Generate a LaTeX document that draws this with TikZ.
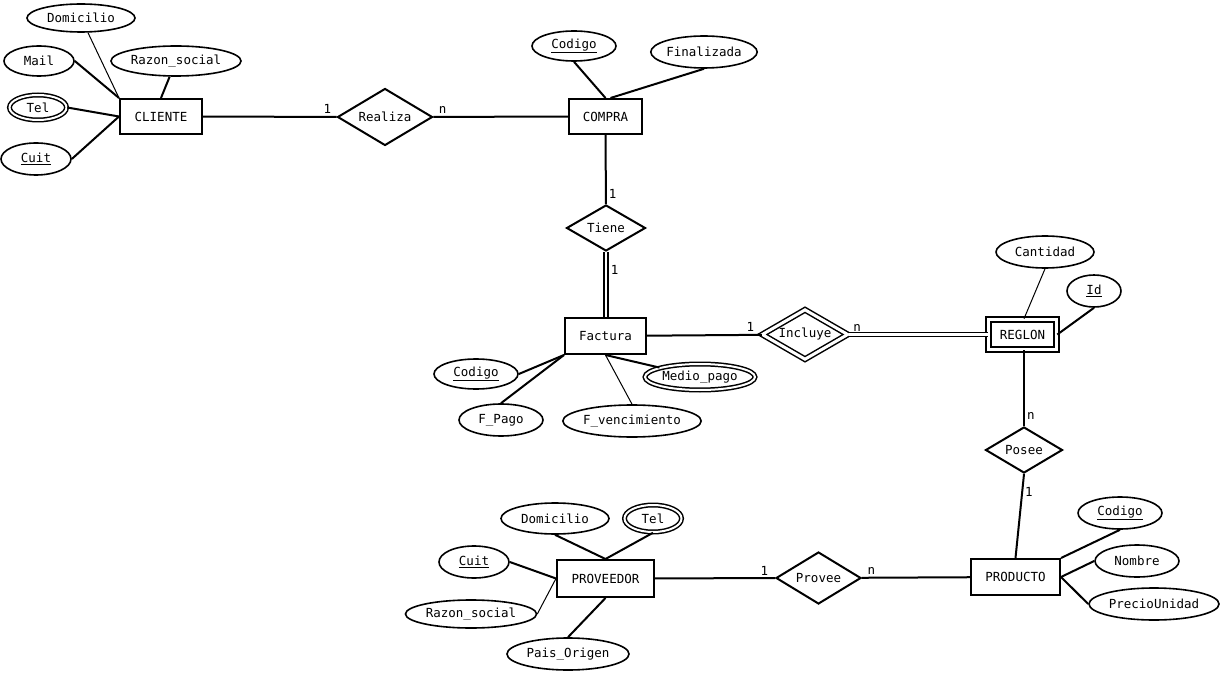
\documentclass[tikz,border=0pt]{standalone}
\usepackage{fontspec}
\setmainfont{DejaVu Sans Mono}
\usetikzlibrary{shapes.geometric}
\tikzset{entity/.style={draw,rectangle,line width=2pt,inner sep=0pt},
  weakentity/.style={entity,double,double distance=3.5pt,line width=1.6pt},
  attr/.style={draw,ellipse,line width=1.6pt,inner sep=0pt},
  multiattr/.style={attr,double,double distance=2pt,line width=1.5pt},
  rel/.style={draw,diamond,aspect=1.6,line width=2pt,inner sep=0pt},
  weakrel/.style={rel,double,double distance=3pt,line width=1.5pt},
  link/.style={line width=2pt},
  thinlink/.style={line width=1pt},
  duallink/.style={double,double distance=2.2pt,line width=1.6pt},
  card/.style={inner sep=2pt}}

\begin{document}
\begin{tikzpicture}[x=1pt,y=-1pt,font=\fontsize{12.5}{14}\selectfont]
\fill[white] (0,0) rectangle (1223,676);
\useasboundingbox (0,0) rectangle (1223,676);

% CLIENTE
\node[entity,minimum width=82pt,minimum height=35pt] (cli) at (161,116.5) {CLIENTE};
\node[attr,minimum width=108pt,minimum height=28pt] (dom1) at (81,18) {Domicilio};
\node[attr,minimum width=70pt,minimum height=30pt] (mail) at (39,61) {Mail};
\node[attr,minimum width=130pt,minimum height=30pt] (raz1) at (176,61) {Razon\_social};
\node[multiattr,minimum width=57pt,minimum height=25pt] (tel1) at (38,107.5) {Tel};
\node[attr,minimum width=70pt,minimum height=32pt] (cuit1) at (36,159) {\underline{Cuit}};
\draw[thinlink] (dom1) -- (cli.north west);
\draw[link] (mail.east) -- (cli.north west);
\draw[link] (raz1) -- (cli.north);
\draw[link] (tel1.east) -- (cli.west);
\draw[link] (cuit1.east) -- (cli.west);

% COMPRA
\node[rel,minimum width=95pt,minimum height=57pt] (rea) at (385,117) {Realiza};
\node[entity,minimum width=73pt,minimum height=35pt] (com) at (605.5,116.5) {COMPRA};
\node[attr,minimum width=84pt,minimum height=30pt] (cod1) at (574,46) {\underline{Codigo}};
\node[attr,minimum width=98pt,minimum height=32pt] (fin) at (704,52) {Finalizada};
\draw[link] (cod1.south) -- (com.north);
\draw[link] (fin.south) -- ([xshift=5pt]com.north);
\draw[link] (cli) -- node[card,pos=0.93,above] (c1) {1} (rea);
\draw[link] (rea) -- node[card,pos=0.07,above] (c2) {n} (com);

% Factura
\node[rel,minimum width=79pt,minimum height=46pt] (tie) at (606,228) {Tiene};
\node[entity,minimum width=81pt,minimum height=36pt] (fac) at (605.5,336) {Factura};
\node[attr,minimum width=84pt,minimum height=30pt] (cod2) at (476,374) {\underline{Codigo}};
\node[attr,minimum width=84pt,minimum height=32pt] (fpago) at (501,420) {F\_Pago};
\node[attr,minimum width=138pt,minimum height=32pt] (fven) at (632,421) {F\_vencimiento};
\node[multiattr,minimum width=110pt,minimum height=26pt] (medio) at (700,377) {Medio\_pago};
\draw[link] (com) -- node[card,pos=0.85,right] (c3) {1} (tie);
\draw[duallink] (tie) -- node[card,pos=0.27,right,xshift=2pt] (c4) {1} (tie |- fac.north);
\draw[link] (cod2.east) -- (fac.south west);
\draw[link] (fpago.north) -- (fac.south west);
\draw[thinlink] (fven.north) -- (fac.south);
\draw[link] (medio) -- (fac.south);

% REGLON
\node[weakrel,minimum width=86pt,minimum height=50pt] (inc) at (805,334.5) {Incluye};
\node[weakentity,minimum width=68pt,minimum height=30pt] (reg) at (1022.5,334.5) {REGLON};
\node[attr,minimum width=98pt,minimum height=32pt] (cant) at (1045,252) {Cantidad};
\node[attr,minimum width=54pt,minimum height=32pt] (id) at (1094,291) {\underline{Id}};
\draw[link] (fac) -- node[card,pos=0.9,above] (c5) {1} (inc);
\draw[duallink] (inc) -- node[card,pos=0.06,above] (c6) {n} (reg);
\draw[thinlink] (cant.south) -- ([xshift=1.5pt]reg.north);
\draw[link] (id.south) -- (reg.east);

% PRODUCTO
\node[rel,minimum width=77pt,minimum height=46pt] (pose) at (1024,450) {Posee};
\node[entity,minimum width=89pt,minimum height=36pt] (pro) at (1015.5,577) {PRODUCTO};
\node[attr,minimum width=84pt,minimum height=32pt] (cod3) at (1120,513) {\underline{Codigo}};
\node[attr,minimum width=84pt,minimum height=32pt] (nom) at (1137,561) {Nombre};
\node[attr,minimum width=130pt,minimum height=32pt] (prec) at (1154,604) {PrecioUnidad};
\draw[link] (reg.south -| pose) -- node[card,pos=0.87,right] (c7) {n} (pose.north);
\draw[link] (pose.south) -- node[card,pos=0.21,right] (c8) {1} (pro.north);
\draw[link] (cod3.south) -- (pro.north east);
\draw[link] (nom.west) -- (pro.east);
\draw[link] (prec.west) -- (pro.east);

% PROVEEDOR
\node[rel,minimum width=85pt,minimum height=52pt] (prv) at (818.5,578) {Provee};
\node[entity,minimum width=97pt,minimum height=37pt] (prov) at (605.5,578.5) {PROVEEDOR};
\node[attr,minimum width=108pt,minimum height=31pt] (dom2) at (555,518.5) {Domicilio};
\node[multiattr,minimum width=57pt,minimum height=27pt] (tel2) at (653,518.5) {Tel};
\node[attr,minimum width=70pt,minimum height=32pt] (cuit2) at (474,562) {\underline{Cuit}};
\node[attr,minimum width=131pt,minimum height=28pt] (raz2) at (471,614) {Razon\_social};
\node[attr,minimum width=122pt,minimum height=32pt] (pais) at (568,654) {Pais\_Origen};
\draw[link] (dom2.south) -- (prov.north);
\draw[link] (tel2.south) -- (prov.north);
\draw[link] (cuit2.east) -- (prov.west);
\draw[thinlink] (raz2.east) -- (prov.west);
\draw[link] (pais.north) -- (prov.south);
\draw[link] (prov) -- node[card,pos=0.91,above] (c9) {1} (prv);
\draw[link] (prv) -- node[card,pos=0.09,above] (c10) {n} (pro);

\end{tikzpicture}
\end{document}
